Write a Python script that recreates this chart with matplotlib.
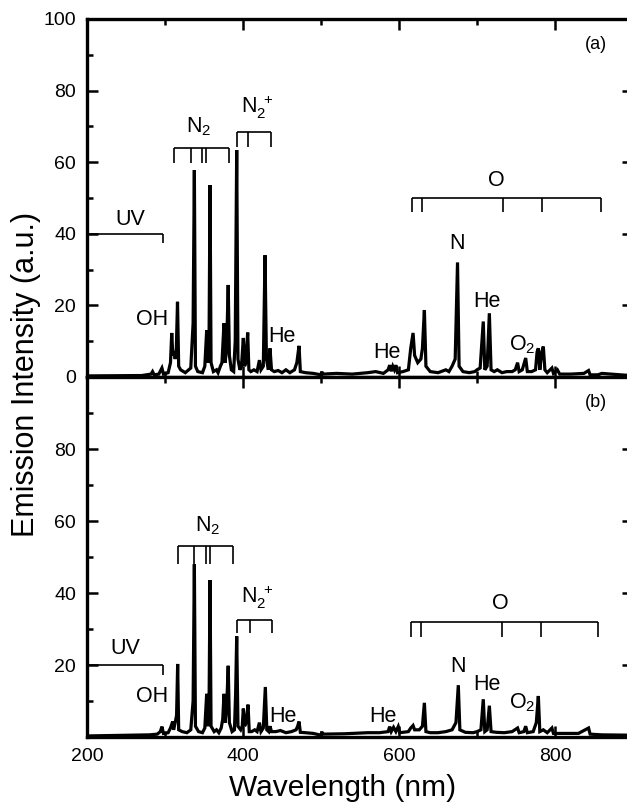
import matplotlib
matplotlib.use("Agg")

import matplotlib.pyplot as plt
from matplotlib.ticker import MultipleLocator

plt.rcParams['font.family'] = ['Liberation Sans', 'DejaVu Sans']
plt.rcParams['mathtext.fontset'] = 'custom'
plt.rcParams['mathtext.rm'] = 'Liberation Sans'
plt.rcParams['mathtext.it'] = 'Liberation Sans'

# traced spectrum (a): wavelength (nm), intensity (a.u.)
wl_a = [200, 270, 282, 284, 286, 292, 296, 298, 304, 307, 308.6, 310, 312, 313, 314.5, 316, 317.5,
        320, 326, 333, 336, 337.6, 339, 342, 348, 351, 353.4, 355, 356.5, 357.7, 359, 362, 366,
        368, 371, 373, 375.6, 377, 379, 381, 382.5, 385, 388, 390, 391.9, 393.5, 396, 398, 400.4,
        402, 403.5, 406, 407.5, 410, 414, 418, 421, 423, 426, 428.2, 430, 432.5, 434.6, 436.5,
        440, 445, 450, 455, 460, 466, 469, 471.8, 473.5, 480, 490, 500, 501, 502, 520, 540, 560,
        570, 580, 586, 588, 590, 592, 594, 596, 598, 605, 612, 615, 618, 620, 624, 628, 630,
        632.5, 634.5, 640, 650, 660, 664, 668, 672, 675, 677, 682, 690, 697, 700, 704, 708, 710,
        713, 715.8, 718, 722, 726, 732, 738, 745, 749, 752, 754, 758, 762.4, 764.5, 770, 775,
        777, 778.6, 780.5, 783, 785, 787, 790, 796, 798, 803, 806, 820, 837, 843, 845, 855, 860,
        890, 900]
int_a = [0.3, 0.4, 0.8, 1.5, 0.6, 0.8, 2.5, 0.8, 1.2, 4, 12.3, 6, 7, 5, 8, 21, 3,
         2, 1.2, 2.5, 15, 57.8, 3, 1.5, 1.2, 3, 13, 4, 12, 53.6, 4, 1.5, 2,
         1.2, 3, 4, 15, 4, 8, 25.7, 6, 2, 1.5, 10, 63.4, 5, 2, 3, 10.9,
         3, 4, 12.4, 2, 1.5, 2, 1.5, 4.7, 2, 3, 34, 5, 2, 8, 2,
         1.5, 1.8, 1.2, 2, 1.2, 2, 4, 8.7, 1.5, 1.2, 1, 0.6, 1.5, 0.8, 1, 0.8, 1.2,
         1.5, 1, 2, 3.3, 1.6, 3, 2, 3.3, 1.2, 1.5, 2, 8, 12.3, 6, 4, 5, 8,
         18.7, 3, 1.5, 1.2, 2, 1.5, 3, 5, 32, 3, 1.5, 1.2, 1.5, 2, 2.5, 15.5, 2,
         3, 17.8, 2, 1.5, 2, 1.2, 1.5, 1.5, 2, 4, 1.5, 2, 5.3, 1.5, 1.5, 2,
         7, 8, 2, 7, 8.5, 2, 1.2, 2.5, 1, 2, 0.8, 0.8, 1, 1.8, 0.6, 0.6, 1,
         0.5, 0.5]

# traced spectrum (b)
wl_b = [200, 280, 290, 294, 296, 298, 304, 307, 309.8, 311, 313, 314.8, 316.2, 317.5, 322, 328,
        333, 336, 337.6, 339, 343, 348, 351, 353.4, 355, 356.5, 357.7, 359, 363, 366, 369, 372,
        374, 375.6, 377, 379, 381, 382.5, 386, 389, 390.5, 391.9, 393.5, 397, 399, 400.4, 402,
        404, 406.4, 408, 411, 415, 418, 421, 423, 426, 428.6, 430.5, 433, 434.6, 436.5, 442,
        448, 455, 462, 468, 470, 471.8, 473.5, 480, 490, 500, 501, 502, 530, 560, 575, 586,
        588, 590, 593, 596, 599, 601, 612, 615, 618, 620, 626, 630, 632.5, 634.5, 640, 650,
        660, 668, 673, 676, 678, 685, 695, 700, 705, 708, 710, 713, 715.8, 718, 725, 735,
        745, 752, 754, 760, 762.4, 764.5, 772, 776, 778.6, 780.5, 785, 790, 796, 798, 815,
        830, 843, 845, 860, 900]
int_b = [0.3, 0.6, 0.8, 1.5, 2.9, 1, 1.2, 2.5, 4.3, 2, 4, 6, 20.3, 2, 1.5, 1.2,
         2, 10, 48, 3, 1.5, 1.2, 2.5, 12, 3, 10, 43.6, 3, 1.5, 2, 1.2, 2.5,
         5, 12, 4, 8, 19.8, 4, 1.5, 2, 12, 28, 3, 2, 3, 7.9, 3,
         4, 9, 1.5, 1.5, 2, 1.5, 4, 1.5, 2.5, 13.9, 2, 1.5, 3, 1.5, 1.5,
         1.8, 1.2, 1.5, 2, 3, 4.3, 1.3, 1.2, 1, 0.5, 1.5, 0.8, 0.9, 1.2, 1.2, 1.5,
         2.9, 1.5, 2.7, 1.5, 2.9, 1.2, 1.5, 2.5, 3.2, 2, 2, 3, 9.5, 1.5, 1.2, 1.2,
         1.5, 2, 4, 14.4, 2, 1.3, 1.2, 1.5, 2, 10.5, 1.5, 2, 8.7, 1.5, 1.3, 1.2,
         1.5, 2.5, 1.2, 1.5, 3, 1.2, 1.5, 4, 11.4, 1.5, 2, 1.2, 2.5, 1, 1,
         1, 2.5, 0.8, 0.6, 0.5]

# line-group brackets: tick wavelengths, bar height, tick end height
brackets_a = [([200, 297], 40, 37.5),
              ([311, 333, 348, 353, 382], 64, 59.7),
              ([392, 406, 436], 68.5, 64.3),
              ([617, 630, 733, 783, 858.6], 50, 46.2)]
brackets_b = [([200, 297], 20, 17.2),
              ([316, 337.6, 352.6, 357.7, 386.8], 53, 48.2),
              ([392.7, 409, 436.8], 32.5, 28.8),
              ([615, 628, 732.5, 781.6, 855.6], 32, 27.9)]

# centred labels: text, wavelength, intensity
labels_a = [('UV', 255, 44), ('OH', 283, 16), ('He', 449.5, 11.3), ('He', 584, 6.9),
            ('N', 674, 37.3), ('He', 712.4, 21.2), ('O', 725, 55)]
labels_b = [('UV', 248.7, 24.7), ('OH', 283, 11.2), ('He', 451.7, 5.6), ('He', 580, 5.8),
            ('N', 675, 19.5), ('He', 712.4, 14.6), ('O', 729.5, 37.1)]
# molecule labels: text, left wavelength, baseline intensity
mol_a = [(r'$\mathregular{N_2}$', 327, 68.2), (r'$\mathregular{N_2^{\ +}}$', 397, 73.6),
         (r'$\mathregular{O_2}$', 741, 7.5)]
mol_b = [(r'$\mathregular{N_2}$', 338.5, 57), (r'$\mathregular{N_2^{\ +}}$', 397, 37.1),
         (r'$\mathregular{O_2}$', 741, 8)]


def setup(ax, bottom_labels):
    ax.set_xlim(200, 900)
    ax.set_ylim(0, 100)
    for s in ax.spines.values():
        s.set_linewidth(2.4)
    ax.xaxis.set_major_locator(MultipleLocator(200))
    ax.xaxis.set_minor_locator(MultipleLocator(100))
    ax.yaxis.set_major_locator(MultipleLocator(20))
    ax.yaxis.set_minor_locator(MultipleLocator(10))
    ax.tick_params(which='both', direction='in', top=True, right=True, labelsize=14,
                   width=1.8, pad=8)
    ax.tick_params(which='major', length=8)
    ax.tick_params(which='minor', length=4.5)
    if not bottom_labels:
        ax.tick_params(labelbottom=False)


def draw_panel(ax, wl, inten, brackets, labels, mols, tag):
    ax.plot(wl, inten, color='black', lw=2.3, solid_joinstyle='miter')
    for ticks, ybar, yend in brackets:
        ax.hlines(ybar, ticks[0], ticks[-1], color='black', lw=1.2)
        ax.vlines(ticks, yend, ybar, color='black', lw=1.2)
    for t, x, y in labels:
        ax.text(x, y, t, ha='center', va='center', fontsize=15.5)
    for t, x, y in mols:
        ax.text(x, y, t, ha='left', va='baseline', fontsize=15.5)
    ax.text(852.6, 92.9, tag, ha='center', va='center', fontsize=13)


fig = plt.figure(figsize=(6.27, 8.10), dpi=100)
ax1 = fig.add_axes([0.1388, 0.5346, 0.8708, 0.4420])
ax2 = fig.add_axes([0.1388, 0.0901, 0.8708, 0.4444])

setup(ax1, False)
setup(ax2, True)
ax2.set_yticks([0, 20, 40, 60, 80, 100])
ax2.set_yticklabels(['', '20', '40', '60', '80', ''])

draw_panel(ax1, wl_a, int_a, brackets_a, labels_a, mol_a, '(a)')
draw_panel(ax2, wl_b, int_b, brackets_b, labels_b, mol_b, '(b)')

fig.text(343 / 627, 1 - 788 / 810, 'Wavelength (nm)', ha='center', va='center', fontsize=21.5)
fig.text(26 / 627, 1 - 374 / 810, 'Emission Intensity (a.u.)', ha='center', va='center',
         rotation=90, fontsize=22)

fig.savefig('out.png', dpi=100)
